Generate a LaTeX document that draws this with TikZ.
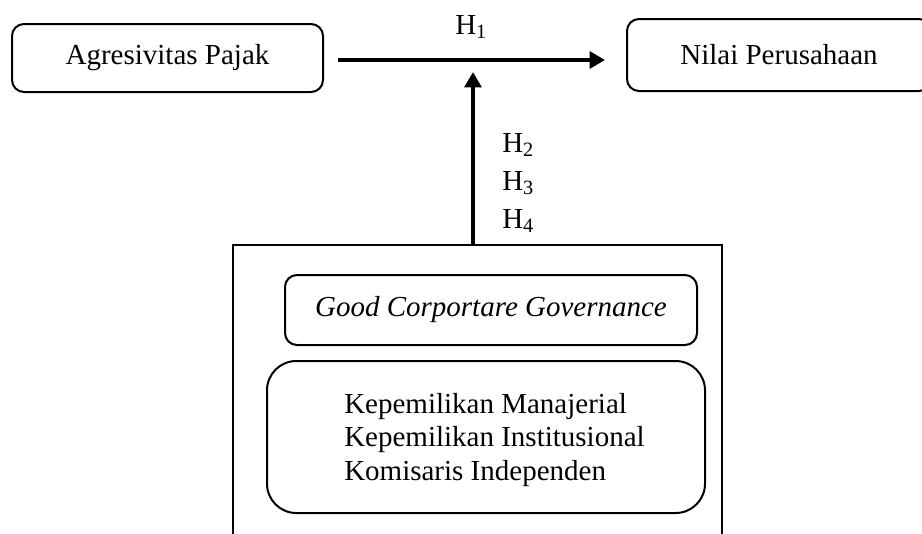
\documentclass[tikz,border=0pt]{standalone}
\usepackage{fontspec}
\setmainfont{Liberation Serif}
\usetikzlibrary{arrows.meta}
\begin{document}
\begin{tikzpicture}[x=0.75pt,y=-0.75pt,
  every node/.style={font=\fontsize{21.75pt}{25pt}\selectfont, inner sep=0pt},
  rbox/.style={draw, line width=1.5pt, rounded corners=9pt},
  plainbox/.style={draw, line width=1.5pt},
  arr/.style={line width=3pt, -{Triangle[length=11.5pt,width=12.5pt]}},
  lbl/.style={anchor=base west}]
\useasboundingbox (0,0) rectangle (922,533);
\clip (0,0) rectangle (922,533);
% top boxes
\node[rbox, minimum width=233.25pt, minimum height=51pt] (ap) at (167.5,58) {Agresivitas Pajak};
\node[rbox, minimum width=228pt, minimum height=54pt] (np) at (779,55) {Nilai Perusahaan};
% bottom outer box
\node[plainbox, minimum width=366.75pt, minimum height=240pt, anchor=north west] (outer) at (232,244) {};
% inner boxes
\node[rbox, minimum width=309pt, minimum height=52.5pt] (gcg) at (491,310) {\itshape Good Corportare Governance};
\node[rbox, rounded corners=22pt, minimum width=328.5pt, minimum height=114pt] (ind) at (486,437) {};
\node[lbl, align=left] (indtxt) at (344,480) {Kepemilikan Manajerial\\Kepemilikan Institusional\\Komisaris Independen};
% arrows
\coordinate (a1) at (338,60);
\coordinate (a2) at (605,60);
\coordinate (v) at (473,72);
\draw[arr] (a1) -- (a2);
\draw[arr] (outer.north -| v) -- (v);
% labels
\node[lbl] (h1) at (455,34) {H\textsubscript{1}};
\node[lbl] (h2) at (502,152) {H\textsubscript{2}};
\node[lbl] (h3) at (502,190) {H\textsubscript{3}};
\node[lbl] (h4) at (502,228) {H\textsubscript{4}};
\end{tikzpicture}
\end{document}
